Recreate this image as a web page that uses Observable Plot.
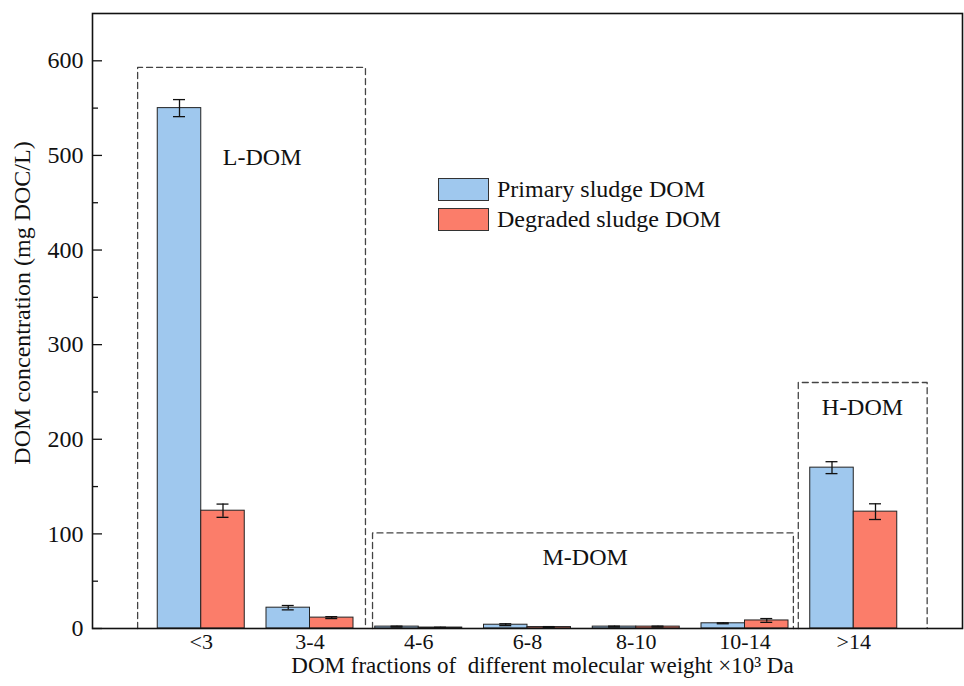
<!DOCTYPE html>
<html>
<head>
<meta charset="utf-8">
<script src="https://cdn.jsdelivr.net/npm/d3@7"></script>
<script src="https://cdn.jsdelivr.net/npm/@observablehq/plot@0.6"></script>
<style>
  html, body { margin: 0; padding: 0; background: #fff; }
  #wrap { position: relative; width: 964px; height: 686px; font-family: "Liberation Serif", "Times New Roman", serif; }
  #legend { position: absolute; left: 438px; top: 174px; font-size: 24px; color: #111; }
  .item { display: flex; align-items: center; height: 30px; }
  .sw { width: 51px; height: 23px; border: 1px solid #333; margin-right: 8px; box-sizing: border-box; }
</style>
</head>
<body>
<div id="wrap">
  <div id="chart"></div>
  <div id="legend"></div>
</div>
<script>
// ---- data ----
const categories = ["<3", "3-4", "4-6", "6-8", "8-10", "10-14", ">14"];
const seriesNames = ["Primary sludge DOM", "Degraded sludge DOM"];
const primary = [550, 22, 2, 4, 2, 5.5, 170];
const primaryErr = [9, 2.3, 0.5, 1, 0.5, 0.5, 6.3];
const degraded = [124.5, 11.5, 1, 1.5, 2, 8.5, 123.5];
const degradedErr = [7, 1, 0.3, 0.5, 0.5, 2, 8.3];
const colors = ["#9fc8ee", "#fb7d6a"];
const yTicksMajor = [0, 100, 200, 300, 400, 500, 600];
const yTicksMinor = [50, 150, 250, 350, 450, 550];

// region boxes (in category-index units)
const boxNames = ["L-DOM", "M-DOM", "H-DOM"];
const boxStart = [-0.585, 1.575, 5.49];
const boxEnd = [1.51, 5.445, 6.675];
const boxTop = [593, 101, 260];
const boxLabelX = [0.56, 3.53, 6.08];
const boxLabelY = [498, 75, 234];

const xTitle = "DOM fractions of  different molecular weight ×10³ Da";
const yTitle = "DOM concentration (mg DOC/L)";

// ---- derived tables ----
const barW = 0.4;
const bars = [];
categories.forEach((c, i) => {
  bars.push({series: 0, x1: i - barW, x2: i, xc: i - barW / 2, v: primary[i], e: primaryErr[i]});
  bars.push({series: 1, x1: i, x2: i + barW, xc: i + barW / 2, v: degraded[i], e: degradedErr[i]});
});
const capHalf = 0.055;
const boxPts = [];
boxNames.forEach((n, k) => {
  boxPts.push({name: n, x: boxStart[k], y: 0});
  boxPts.push({name: n, x: boxStart[k], y: boxTop[k]});
  boxPts.push({name: n, x: boxEnd[k], y: boxTop[k]});
  boxPts.push({name: n, x: boxEnd[k], y: 0});
});

const chart = Plot.plot({
  width: 964,
  height: 686,
  marginLeft: 92,
  marginRight: 2,
  marginTop: 13,
  marginBottom: 58,
  style: {fontFamily: "'Liberation Serif', 'Times New Roman', serif", fontSize: "24px", color: "#111", background: "#fff"},
  x: {domain: [-1, 7]},
  y: {domain: [0, 650]},
  marks: [
    Plot.line(boxPts, {x: "x", y: "y", z: "name", stroke: "#444", strokeWidth: 1.3, strokeDasharray: "6,4"}),
    Plot.rectY(bars, {x1: "x1", x2: "x2", y1: 0, y2: "v", fill: d => colors[d.series], stroke: "#222", strokeWidth: 1}),
    Plot.ruleX(bars, {x: "xc", y1: d => d.v - d.e, y2: d => d.v + d.e, stroke: "#111", strokeWidth: 1.3}),
    Plot.ruleY(bars, {y: d => d.v + d.e, x1: d => d.xc - capHalf, x2: d => d.xc + capHalf, stroke: "#111", strokeWidth: 1.3}),
    Plot.ruleY(bars, {y: d => d.v - d.e, x1: d => d.xc - capHalf, x2: d => d.xc + capHalf, stroke: "#111", strokeWidth: 1.3}),
    Plot.text(boxNames, {x: (d, i) => boxLabelX[i], y: (d, i) => boxLabelY[i], text: d => d, fontSize: 24, fill: "#111"}),
    Plot.axisY({ticks: yTicksMajor, tickSize: 0, tickPadding: 9, label: null, fontSize: 24}),
    Plot.axisY({ticks: yTicksMajor, tickSize: 10, dx: 10, text: null, label: null, strokeWidth: 1.3}),
    Plot.axisY({ticks: yTicksMinor, tickSize: 6, dx: 6, text: null, label: null, strokeWidth: 1.3}),
    Plot.axisX({ticks: d3.range(categories.length), tickFormat: i => categories[i], tickSize: 0, tickPadding: 5, label: null, fontSize: 22}),
    Plot.text([yTitle], {frameAnchor: "left", textAnchor: "middle", rotate: -90, dx: -70, dy: -18, fontSize: 24, fill: "#111"}),
    Plot.text([xTitle], {frameAnchor: "bottom", textAnchor: "middle", dy: 44, dx: 15, fontSize: 23, fill: "#111"}),
    Plot.frame({stroke: "#111", strokeWidth: 1.6})
  ]
});
document.getElementById("chart").appendChild(chart);

const legend = document.getElementById("legend");
seriesNames.forEach((n, i) => {
  const it = document.createElement("div");
  it.className = "item";
  const sw = document.createElement("div");
  sw.className = "sw";
  sw.style.background = colors[i];
  const t = document.createElement("span");
  t.textContent = n;
  it.appendChild(sw);
  it.appendChild(t);
  legend.appendChild(it);
});
</script>
</body>
</html>
